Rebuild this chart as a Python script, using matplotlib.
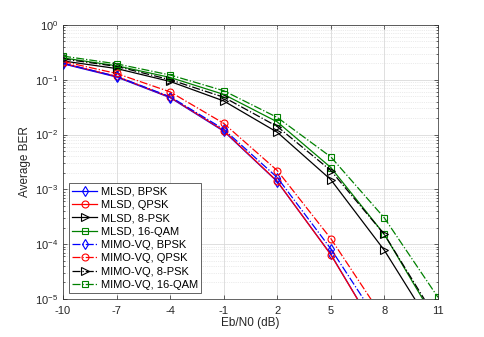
import matplotlib
matplotlib.use("Agg")
import matplotlib.pyplot as plt
import numpy as np
from matplotlib.ticker import LogLocator, NullFormatter

plt.rcParams['font.family'] = ['Liberation Sans', 'DejaVu Sans']

snr = [-10, -7, -4, -1, 2, 5, 8, 11]
xticks = [-10, -7, -4, -1, 2, 5, 8, 11]

mlsd_bpsk = [0.195, 0.112, 0.047, 0.0115, 1.38e-3, 6.5e-5, 1.5e-6, None]
mlsd_qpsk = [0.20, 0.115, 0.048, 0.0118, 1.40e-3, 6.4e-5, 1.5e-6, None]
mlsd_8psk = [0.22, 0.16, 0.093, 0.041, 0.011, 1.5e-3, 7.7e-5, 2.1e-6]
mlsd_16qam = [0.25, 0.18, 0.11, 0.054, 0.017, 2.5e-3, 1.5e-4, 3.4e-6]
vq_bpsk = [0.20, 0.115, 0.049, 0.0125, 1.64e-3, 8.2e-5, 2.6e-6, None]
vq_qpsk = [0.215, 0.13, 0.06, 0.016, 2.2e-3, 1.26e-4, 4.2e-6, None]
vq_8psk = [0.24, 0.175, 0.10, 0.048, 0.014, 2.2e-3, 1.5e-4, 3.9e-6]
vq_16qam = [0.27, 0.195, 0.122, 0.063, 0.0205, 3.9e-3, 3.0e-4, 1.07e-5]

labels = ['MLSD, BPSK', 'MLSD, QPSK', 'MLSD, 8-PSK', 'MLSD, 16-QAM',
          'MIMO-VQ, BPSK', 'MIMO-VQ, QPSK', 'MIMO-VQ, 8-PSK', 'MIMO-VQ, 16-QAM']

green = (0, 0.5, 0)
series = [
    (mlsd_bpsk, 'b', 'd', '-'),
    (mlsd_qpsk, 'r', 'o', '-'),
    (mlsd_8psk, 'k', '>', '-'),
    (mlsd_16qam, green, 's', '-'),
    (vq_bpsk, 'b', 'd', '-.'),
    (vq_qpsk, 'r', 'o', '-.'),
    (vq_8psk, 'k', '>', '-.'),
    (vq_16qam, green, 's', '-.'),
]

fig = plt.figure(figsize=(4.85, 3.37), dpi=100)
ax = fig.add_axes([0.13, 0.113, 0.773, 0.813])

for (vals, c, m, ls), lab in zip(series, labels):
    y = np.array([np.nan if v is None else v for v in vals], dtype=float)
    ms = 5 if m == 'd' else (6 if m == '>' else 5)
    ax.semilogy(snr, y, color=c, marker=m, linestyle=ls, linewidth=0.9,
                markersize=ms, markerfacecolor='none', markeredgewidth=0.8,
                label=lab)

ax.set_xlim(-10, 11)
ax.set_ylim(1e-5, 1)
ax.set_xticks(xticks)
ax.set_xticklabels([str(t) for t in xticks])
ax.yaxis.set_major_locator(LogLocator(base=10, numticks=10))
ax.yaxis.set_minor_locator(LogLocator(base=10, subs=np.arange(2, 10), numticks=100))
ax.yaxis.set_minor_formatter(NullFormatter())

ax.grid(True, which='major', color=(0.85, 0.85, 0.85), linewidth=0.6, linestyle='-')
ax.grid(True, which='minor', axis='y', color=(0.85, 0.85, 0.85), linewidth=0.5, linestyle=':')
ax.set_axisbelow(True)

ax.tick_params(which='both', direction='in', top=True, right=True, labelsize=8,
               color=(0.15, 0.15, 0.15), width=0.5, labelcolor=(0.15, 0.15, 0.15))
ax.tick_params(which='major', length=3)
ax.tick_params(axis='x', which='major', pad=5)
ax.tick_params(which='minor', length=1.5)
for s in ax.spines.values():
    s.set_color((0.15, 0.15, 0.15))
    s.set_linewidth(0.5)

ax.set_xlabel('Eb/N0 (dB)', fontsize=8.5, labelpad=1, color=(0.15, 0.15, 0.15))
ax.set_ylabel('Average BER', fontsize=8.5, labelpad=3, color=(0.15, 0.15, 0.15))

leg = ax.legend(loc='lower left', fontsize=8, frameon=True, fancybox=False,
                edgecolor=(0.15, 0.15, 0.15), framealpha=1, borderaxespad=0.5,
                handlelength=2.3, labelspacing=0.3, borderpad=0.3, handletextpad=0.3)
leg.get_frame().set_linewidth(0.5)

fig.savefig('out.png', dpi=100)
